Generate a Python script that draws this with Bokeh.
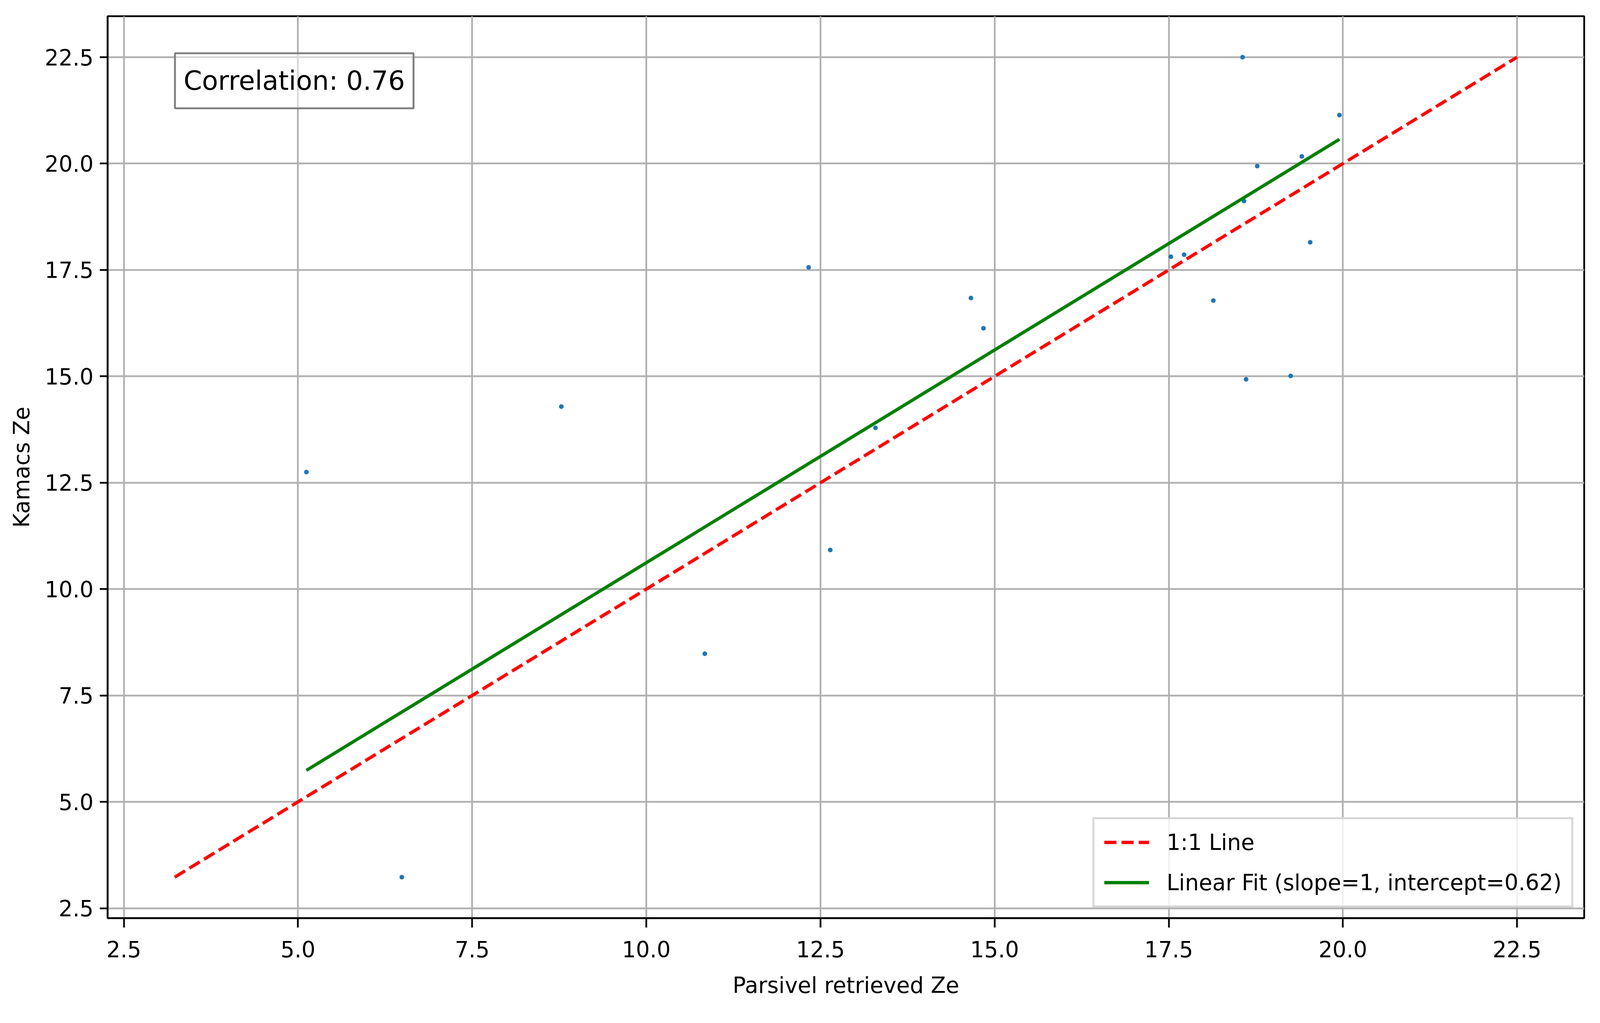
from bokeh.plotting import figure
from bokeh.models import (Range1d, FixedTicker, PrintfTickFormatter, Label,
                          Legend, LegendItem, ColumnDataSource)
from bokeh.embed import file_html
from bokeh.resources import INLINE

# ---- data ----
parsivel_ze = [5.12, 6.49, 8.78, 10.84, 12.33, 12.64, 13.29, 14.66, 14.84, 17.53,
               17.72, 18.14, 18.56, 18.58, 18.61, 18.77, 19.25, 19.41, 19.53, 19.95]
kamacs_ze = [12.75, 3.23, 14.29, 8.48, 17.56, 10.92, 13.79, 16.84, 16.13, 17.81,
             17.86, 16.78, 22.50, 19.12, 14.93, 19.94, 15.01, 20.17, 18.15, 21.14]
fit_x = [5.12, 19.95]
fit_y = [5.74, 20.57]
tick_values = [2.5, 5.0, 7.5, 10.0, 12.5, 15.0, 17.5, 20.0, 22.5]
correlation_text = "Correlation: 0.76"
legend_labels = ["1:1 Line", "Linear Fit (slope=1, intercept=0.62)"]
x_label = "Parsivel retrieved Ze"
y_label = "Kamacs Ze"

lo = min(min(parsivel_ze), min(kamacs_ze))
hi = max(max(parsivel_ze), max(kamacs_ze))
line_xy = [lo, hi]
pad = 0.05 * (hi - lo)
r_lo, r_hi = lo - pad, hi + pad

FONT = "DejaVu Sans"
SX = 4105 / 5048   # horizontal scale (CSS px per reference px)
PT = 6.8 * SX      # px per point (line widths)


def px(v):
    return int(round(v * SX))


def fs(v):
    return f"{v * SX:.1f}px"


W = 4089
H = 2600
p = figure(width=W, height=H, output_backend="svg", toolbar_location=None,
           x_range=Range1d(r_lo, r_hi), y_range=Range1d(r_lo, r_hi),
           min_border_left=275, min_border_right=34, min_border_top=41,
           min_border_bottom=249)
p.background_fill_color = "white"
p.border_fill_color = "white"
p.outline_line_color = "black"
p.outline_line_width = 0.8 * PT

for ax in (p.xaxis, p.yaxis):
    ax.ticker = FixedTicker(ticks=tick_values)
    ax.formatter = PrintfTickFormatter(format="%.1f")
    ax.axis_line_width = 0.8 * PT
    ax.axis_line_color = "black"
    ax.major_tick_line_width = 0.8 * PT
    ax.major_tick_line_color = "black"
    ax.major_tick_in = 0
    ax.minor_tick_line_color = None
    ax.major_label_text_font = FONT
    ax.major_label_text_font_size = fs(69)
    ax.major_label_text_color = "black"
    ax.axis_label_text_font = FONT
    ax.axis_label_text_font_size = fs(69)
    ax.axis_label_text_font_style = "normal"
    ax.axis_label_text_color = "black"

p.xaxis.axis_label = x_label
p.yaxis.axis_label = y_label
p.xaxis.major_tick_out = 24
p.yaxis.major_tick_out = px(24)
p.xaxis.major_label_standoff = 34
p.yaxis.major_label_standoff = px(20)
p.xaxis.axis_label_standoff = 36
p.yaxis.axis_label_standoff = px(30)

for g in (p.xgrid, p.ygrid):
    g.ticker = FixedTicker(ticks=tick_values)
    g.grid_line_color = "#b0b0b0"
    g.grid_line_width = 0.8 * PT

src = ColumnDataSource(data=dict(x=parsivel_ze, y=kamacs_ze))
p.scatter("x", "y", source=src, size=12, fill_color="#1f77b4", line_color=None)

r_one = p.line(line_xy, line_xy, line_color="red", line_width=1.5 * PT,
               line_dash=f"{px(38)} {px(16)}")
r_fit = p.line(fit_x, fit_y, line_color="green", line_width=1.5 * PT)

legend = Legend(items=[LegendItem(label=legend_labels[0], renderers=[r_one]),
                       LegendItem(label=legend_labels[1], renderers=[r_fit])],
                location="bottom_right", margin=27, padding=25, spacing=35,
                glyph_width=px(142), glyph_height=68, label_height=68,
                label_standoff=px(55),
                label_text_font=FONT, label_text_font_size=fs(69),
                label_text_color="black",
                border_line_color="#cccccc", border_line_alpha=0.8,
                border_line_width=PT,
                background_fill_color="white", background_fill_alpha=0.8)
p.add_layout(legend)

span = r_hi - r_lo
corr = Label(x=r_lo + 0.0435 * span, y=r_lo + 0.9628 * span, text=correlation_text,
             x_offset=px(10), y_offset=-9,
             anchor="top_left", text_font=FONT, text_font_size=fs(83),
             text_color="black", padding=(px(27), 31),
             background_fill_color="white", background_fill_alpha=0.5,
             border_line_color="#808080", border_line_width=6 * SX)
p.add_layout(corr)

open("out.html", "w").write(file_html(p, INLINE))
